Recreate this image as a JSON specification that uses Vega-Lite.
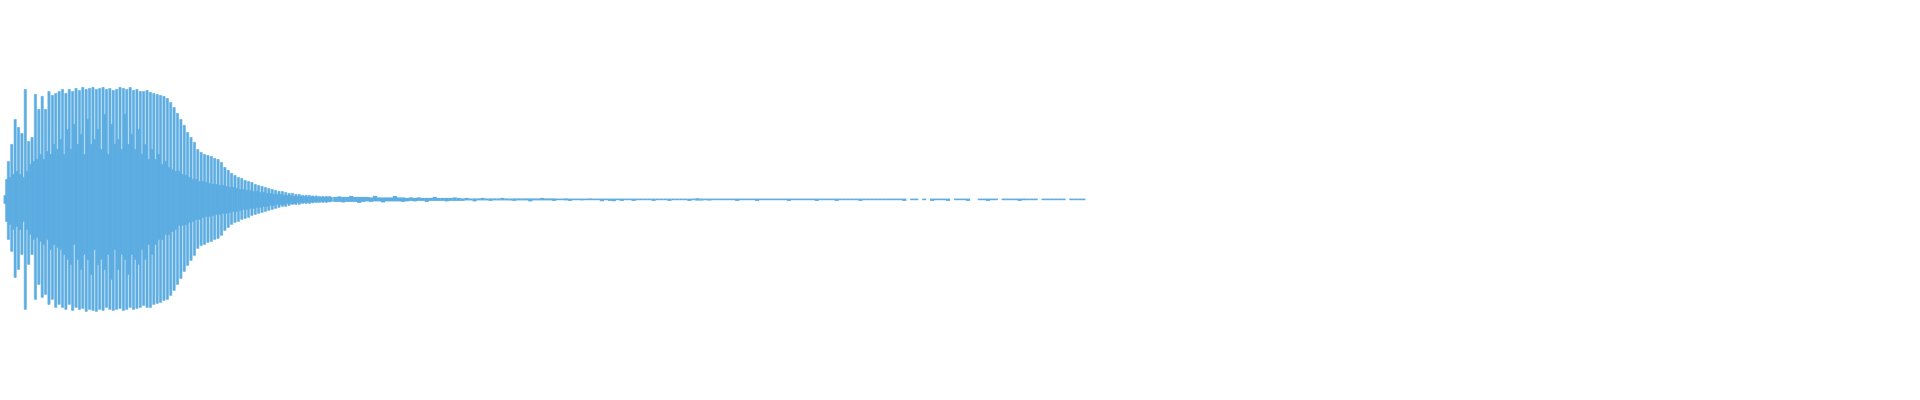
{
"$schema": "https://vega.github.io/schema/vega-lite/v6.json",
"width": 1920, "height": 400,
"autosize": {"type": "fit", "contains": "padding"},
"padding": 0,
"config": {"view": {"stroke": null}},
"data": {"values": [
{"t":0,"hi":4,"lo":-4},{"t":1.7,"hi":20,"lo":-22},{"t":3.4,"hi":38,"lo":-40},{"t":5.1,"hi":22,"lo":-25},{"t":6.8,"hi":55,"lo":-52},{"t":8.5,"hi":25,"lo":-30},{"t":10.2,"hi":80,"lo":-78},{"t":11.9,"hi":28,"lo":-27},{"t":13.6,"hi":72,"lo":-70},{"t":15.3,"hi":25,"lo":-30},
{"t":17,"hi":66,"lo":-55},{"t":18.7,"hi":22,"lo":-22},{"t":20.4,"hi":110,"lo":-110},{"t":22.1,"hi":28,"lo":-30},{"t":23.8,"hi":58,"lo":-65},{"t":25.5,"hi":35,"lo":-35},{"t":27.2,"hi":62,"lo":-55},{"t":28.9,"hi":38,"lo":-40},{"t":30.6,"hi":105,"lo":-100},{"t":32.3,"hi":40,"lo":-38},
{"t":34,"hi":90,"lo":-85},{"t":35.7,"hi":45,"lo":-42},{"t":37.4,"hi":103,"lo":-98},{"t":39.1,"hi":40,"lo":-45},{"t":40.8,"hi":90,"lo":-95},{"t":42.5,"hi":48,"lo":-40},{"t":44.2,"hi":108,"lo":-105},{"t":45.9,"hi":45,"lo":-50},{"t":47.6,"hi":104,"lo":-100},{"t":49.3,"hi":55,"lo":-45},
{"t":51,"hi":106,"lo":-108},{"t":52.7,"hi":50,"lo":-48},{"t":54.4,"hi":108,"lo":-105},{"t":56.1,"hi":60,"lo":-50},{"t":57.8,"hi":110,"lo":-108},{"t":59.5,"hi":45,"lo":-55},{"t":61.2,"hi":106,"lo":-110},{"t":62.9,"hi":70,"lo":-60},{"t":64.6,"hi":110,"lo":-105},{"t":66.3,"hi":50,"lo":-65},
{"t":68,"hi":108,"lo":-111},{"t":69.7,"hi":75,"lo":-45},{"t":71.4,"hi":111,"lo":-108},{"t":73.1,"hi":55,"lo":-60},{"t":74.8,"hi":109,"lo":-110},{"t":76.5,"hi":65,"lo":-70},{"t":78.2,"hi":112,"lo":-109},{"t":79.9,"hi":45,"lo":-55},{"t":81.6,"hi":110,"lo":-112},{"t":83.3,"hi":80,"lo":-60},
{"t":85,"hi":111,"lo":-110},{"t":86.7,"hi":55,"lo":-75},{"t":88.4,"hi":112,"lo":-111},{"t":90.1,"hi":60,"lo":-50},{"t":91.8,"hi":110,"lo":-112},{"t":93.5,"hi":70,"lo":-65},{"t":95.2,"hi":111,"lo":-110},{"t":96.9,"hi":50,"lo":-60},{"t":98.6,"hi":112,"lo":-111},{"t":100.3,"hi":85,"lo":-70},
{"t":102,"hi":110,"lo":-108},{"t":103.7,"hi":45,"lo":-55},{"t":105.4,"hi":111,"lo":-110},{"t":107.1,"hi":75,"lo":-80},{"t":108.8,"hi":109,"lo":-111},{"t":110.5,"hi":55,"lo":-50},{"t":112.2,"hi":110,"lo":-110},{"t":113.9,"hi":60,"lo":-70},{"t":115.6,"hi":112,"lo":-109},{"t":117.3,"hi":50,"lo":-55},
{"t":119,"hi":111,"lo":-111},{"t":120.7,"hi":85,"lo":-60},{"t":122.4,"hi":110,"lo":-110},{"t":124.1,"hi":55,"lo":-75},{"t":125.8,"hi":112,"lo":-108},{"t":127.5,"hi":65,"lo":-55},{"t":129.2,"hi":109,"lo":-110},{"t":130.9,"hi":50,"lo":-60},{"t":132.6,"hi":110,"lo":-109},{"t":134.3,"hi":70,"lo":-65},
{"t":136,"hi":108,"lo":-108},{"t":137.7,"hi":45,"lo":-50},{"t":139.4,"hi":108,"lo":-106},{"t":141.1,"hi":55,"lo":-60},{"t":142.8,"hi":109,"lo":-108},{"t":144.5,"hi":40,"lo":-45},{"t":146.2,"hi":107,"lo":-108},{"t":147.9,"hi":50,"lo":-55},{"t":149.6,"hi":106,"lo":-105},{"t":151.3,"hi":40,"lo":-45},
{"t":153,"hi":105,"lo":-104},{"t":154.7,"hi":45,"lo":-40},{"t":156.4,"hi":104,"lo":-103},{"t":158.1,"hi":35,"lo":-40},{"t":159.8,"hi":103,"lo":-101},{"t":161.5,"hi":38,"lo":-35},{"t":163.2,"hi":101,"lo":-100},{"t":164.9,"hi":32,"lo":-35},{"t":166.6,"hi":97,"lo":-96},{"t":168.3,"hi":30,"lo":-32},
{"t":170,"hi":92,"lo":-91},{"t":171.7,"hi":28,"lo":-30},{"t":173.4,"hi":86,"lo":-85},{"t":175.1,"hi":28,"lo":-26},{"t":176.8,"hi":80,"lo":-79},{"t":178.5,"hi":25,"lo":-26},{"t":180.2,"hi":74,"lo":-72},{"t":181.9,"hi":24,"lo":-25},{"t":183.6,"hi":67,"lo":-66},{"t":185.3,"hi":22,"lo":-23},
{"t":187,"hi":62,"lo":-61},{"t":188.7,"hi":20,"lo":-22},{"t":190.4,"hi":57,"lo":-56},{"t":192.1,"hi":20,"lo":-20},{"t":193.8,"hi":50,"lo":-49},{"t":195.5,"hi":18,"lo":-20},{"t":197.2,"hi":47,"lo":-46},{"t":198.9,"hi":18,"lo":-18},{"t":200.6,"hi":45,"lo":-45},{"t":202.3,"hi":17,"lo":-17},
{"t":204,"hi":44,"lo":-43},{"t":205.7,"hi":16,"lo":-17},{"t":207.4,"hi":43,"lo":-42},{"t":209.1,"hi":15,"lo":-16},{"t":210.8,"hi":41,"lo":-40},{"t":212.5,"hi":15,"lo":-15},{"t":214.2,"hi":40,"lo":-39},{"t":215.9,"hi":14,"lo":-15},{"t":217.6,"hi":37,"lo":-36},{"t":219.3,"hi":14,"lo":-14},
{"t":221,"hi":32,"lo":-31},{"t":222.7,"hi":13,"lo":-14},{"t":224.4,"hi":29,"lo":-28},{"t":226.1,"hi":12,"lo":-13},{"t":227.8,"hi":26,"lo":-25},{"t":229.5,"hi":12,"lo":-12},{"t":231.2,"hi":24,"lo":-23},{"t":232.9,"hi":11,"lo":-12},{"t":234.6,"hi":22,"lo":-22},{"t":236.3,"hi":10,"lo":-11},
{"t":238,"hi":21,"lo":-20},{"t":239.7,"hi":10,"lo":-10},{"t":241.4,"hi":19,"lo":-19},{"t":243.1,"hi":9,"lo":-10},{"t":244.8,"hi":18,"lo":-18},{"t":246.5,"hi":9,"lo":-9},{"t":248.2,"hi":17,"lo":-16},{"t":249.9,"hi":8,"lo":-9},{"t":251.6,"hi":15,"lo":-15},{"t":253.3,"hi":8,"lo":-8},
{"t":255,"hi":14,"lo":-14},{"t":256.7,"hi":7,"lo":-8},{"t":258.4,"hi":13,"lo":-13},{"t":260.1,"hi":7,"lo":-7},{"t":261.8,"hi":12,"lo":-12},{"t":263.5,"hi":6,"lo":-7},{"t":265.2,"hi":11,"lo":-11},{"t":266.9,"hi":6,"lo":-6},{"t":268.6,"hi":10,"lo":-10},{"t":270.3,"hi":5,"lo":-6},
{"t":272,"hi":9,"lo":-9},{"t":273.7,"hi":5,"lo":-5},{"t":275.4,"hi":8,"lo":-8},{"t":277.1,"hi":5,"lo":-5},{"t":278.8,"hi":8,"lo":-7},{"t":280.5,"hi":4,"lo":-5},{"t":282.2,"hi":7,"lo":-7},{"t":283.9,"hi":4,"lo":-4},{"t":285.6,"hi":6,"lo":-6},{"t":287.3,"hi":4,"lo":-4},
{"t":289,"hi":6,"lo":-5},{"t":290.7,"hi":3,"lo":-4},{"t":292.4,"hi":5,"lo":-5},{"t":294.1,"hi":3,"lo":-3},{"t":295.8,"hi":5,"lo":-5},{"t":297.5,"hi":3,"lo":-3},{"t":299.2,"hi":4,"lo":-4},{"t":300.9,"hi":3,"lo":-3},{"t":302.6,"hi":4,"lo":-4},{"t":304.3,"hi":2.5,"lo":-3},
{"t":306,"hi":4,"lo":-4},{"t":307.7,"hi":2.5,"lo":-2.5},{"t":309.4,"hi":3.5,"lo":-3.5},{"t":311.1,"hi":2.5,"lo":-2.5},{"t":312.8,"hi":3.5,"lo":-3},{"t":314.5,"hi":2,"lo":-2.5},{"t":316.2,"hi":3,"lo":-3},{"t":317.9,"hi":2,"lo":-2},{"t":319.6,"hi":3,"lo":-3},{"t":321.3,"hi":2,"lo":-2},
{"t":323,"hi":3,"lo":-3},{"t":324.7,"hi":2,"lo":-2},{"t":326.4,"hi":3,"lo":-2.5},{"t":328.1,"hi":2,"lo":-2},
{"t":332,"hi":2.5,"lo":-2.5},{"t":336,"hi":3,"lo":-2.5},{"t":340,"hi":2.5,"lo":-3},{"t":344,"hi":2.5,"lo":-2.5},{"t":348,"hi":3.5,"lo":-2.5},{"t":352,"hi":2.5,"lo":-2.5},{"t":356,"hi":2.5,"lo":-3.5},{"t":360,"hi":2.5,"lo":-2.5},{"t":364,"hi":2.5,"lo":-2},{"t":368,"hi":2,"lo":-2.5},
{"t":372,"hi":3.5,"lo":-2},{"t":376,"hi":2,"lo":-2},{"t":380,"hi":2,"lo":-3},{"t":384,"hi":2,"lo":-2},{"t":388,"hi":2,"lo":-2},{"t":392,"hi":3.5,"lo":-2},{"t":396,"hi":2,"lo":-2},{"t":400,"hi":2,"lo":-2.5},{"t":404,"hi":1.5,"lo":-2},{"t":408,"hi":2,"lo":-1.5},
{"t":412,"hi":1.5,"lo":-2},{"t":416,"hi":2,"lo":-1.5},{"t":420,"hi":1.5,"lo":-1.5},{"t":424,"hi":1.5,"lo":-2.5},{"t":428,"hi":1.5,"lo":-1.5},{"t":432,"hi":2.5,"lo":-1.5},{"t":436,"hi":1.5,"lo":-1.5},{"t":440,"hi":1.5,"lo":-1.5},{"t":444,"hi":1.5,"lo":-2},{"t":448,"hi":1.5,"lo":-1.5},
{"t":452,"hi":2,"lo":-1.5},{"t":456,"hi":1.5,"lo":-1.5},{"t":460,"hi":1,"lo":-1.5},{"t":464,"hi":1.5,"lo":-1},{"t":468,"hi":1,"lo":-1},{"t":472,"hi":1,"lo":-2},{"t":476,"hi":1,"lo":-1},{"t":480,"hi":1.5,"lo":-1},{"t":484,"hi":1,"lo":-1},{"t":488,"hi":1,"lo":-1.5},
{"t":492,"hi":1,"lo":-1},{"t":496,"hi":1,"lo":-1},{"t":500,"hi":1.5,"lo":-1},{"t":504,"hi":1,"lo":-1},{"t":508,"hi":1,"lo":-1},{"t":512,"hi":1,"lo":-1.5},{"t":516,"hi":1,"lo":-1},{"t":520,"hi":1,"lo":-1},{"t":524,"hi":1,"lo":-1},{"t":528,"hi":1,"lo":-2},
{"t":532,"hi":1,"lo":-1},{"t":536,"hi":1,"lo":-1},{"t":540,"hi":1.5,"lo":-1},{"t":544,"hi":1,"lo":-1},{"t":548,"hi":1,"lo":-1},{"t":552,"hi":1,"lo":-1.5},{"t":556,"hi":0.8,"lo":-0.8},{"t":560,"hi":0.8,"lo":-0.8},{"t":564,"hi":1,"lo":-1},{"t":568,"hi":0.8,"lo":-1.5},
{"t":572,"hi":0.8,"lo":-0.8},{"t":576,"hi":0.8,"lo":-0.8},{"t":580,"hi":0.8,"lo":-1},{"t":584,"hi":0.8,"lo":-0.8},{"t":588,"hi":1,"lo":-0.8},{"t":592,"hi":0.8,"lo":-0.8},{"t":596,"hi":0.8,"lo":-0.8},{"t":600,"hi":0.8,"lo":-1.8},{"t":604,"hi":0.8,"lo":-0.8},{"t":608,"hi":0.8,"lo":-1.5},
{"t":612,"hi":0.8,"lo":-1.8},{"t":616,"hi":0.8,"lo":-0.8},{"t":620,"hi":0.8,"lo":-1.5},{"t":624,"hi":0.8,"lo":-0.8},{"t":628,"hi":0.8,"lo":-0.8},{"t":632,"hi":0.8,"lo":-1.5},{"t":636,"hi":0.8,"lo":-0.8},{"t":640,"hi":0.8,"lo":-0.8},{"t":644,"hi":0.8,"lo":-0.8},{"t":648,"hi":0.8,"lo":-0.8},
{"t":652,"hi":0.8,"lo":-1.5},{"t":656,"hi":0.8,"lo":-0.8},{"t":660,"hi":0.8,"lo":-0.8},{"t":664,"hi":0.8,"lo":-0.8},{"t":668,"hi":0.8,"lo":-1.5},{"t":672,"hi":0.8,"lo":-0.8},{"t":676,"hi":0.8,"lo":-0.8},{"t":680,"hi":0.8,"lo":-0.8},{"t":684,"hi":0.8,"lo":-0.8},{"t":688,"hi":0.8,"lo":-1.5},
{"t":692,"hi":0.8,"lo":-0.8},{"t":696,"hi":1.2,"lo":-1.2},{"t":700,"hi":0.8,"lo":-1.2},{"t":704,"hi":0.8,"lo":-0.8},{"t":708,"hi":0.8,"lo":-1.2},{"t":712,"hi":0.8,"lo":-0.8},{"t":716,"hi":0.8,"lo":-0.8},{"t":720,"hi":0.8,"lo":-0.8},{"t":724,"hi":0.8,"lo":-0.8},{"t":728,"hi":0.8,"lo":-0.8},
{"t":732,"hi":0.8,"lo":-0.8},{"t":736,"hi":0.8,"lo":-1.5},{"t":740,"hi":0.8,"lo":-0.8},{"t":744,"hi":0.8,"lo":-0.8},{"t":748,"hi":0.8,"lo":-0.8},{"t":752,"hi":0.8,"lo":-0.8},{"t":756,"hi":0.8,"lo":-1.5},{"t":760,"hi":0.8,"lo":-0.8},{"t":764,"hi":0.8,"lo":-0.8},{"t":768,"hi":0.8,"lo":-0.8},
{"t":772,"hi":0.8,"lo":-0.8},{"t":776,"hi":0.8,"lo":-0.8},{"t":780,"hi":0.8,"lo":-0.8},{"t":784,"hi":0.8,"lo":-0.8},{"t":788,"hi":0.8,"lo":-1.5},{"t":792,"hi":0.8,"lo":-0.8},{"t":796,"hi":0.8,"lo":-0.8},{"t":800,"hi":0.8,"lo":-0.8},{"t":804,"hi":0.8,"lo":-0.8},{"t":808,"hi":0.8,"lo":-0.8},
{"t":812,"hi":0.8,"lo":-0.8},{"t":816,"hi":0.8,"lo":-1.5},{"t":820,"hi":0.8,"lo":-0.8},{"t":824,"hi":0.8,"lo":-0.8},{"t":828,"hi":0.8,"lo":-0.8},{"t":832,"hi":0.8,"lo":-0.8},{"t":836,"hi":0.8,"lo":-1.5},{"t":840,"hi":0.8,"lo":-0.8},{"t":844,"hi":0.8,"lo":-0.8},{"t":848,"hi":0.8,"lo":-0.8},
{"t":852,"hi":0.8,"lo":-0.8},{"t":856,"hi":0.8,"lo":-0.8},{"t":860,"hi":0.8,"lo":-1.5},{"t":864,"hi":0.8,"lo":-0.8},{"t":868,"hi":0.8,"lo":-0.8},{"t":872,"hi":0.8,"lo":-0.8},{"t":876,"hi":0.8,"lo":-0.8},{"t":880,"hi":0.8,"lo":-0.8},{"t":884,"hi":0.8,"lo":-0.8},{"t":888,"hi":0.8,"lo":-0.8},
{"t":892,"hi":0.8,"lo":-0.8},{"t":896,"hi":0.8,"lo":-0.8},{"t":900,"hi":0.8,"lo":-0.8},{"t":904,"hi":0.8,"lo":-1.5},{"t":912,"hi":0.8,"lo":-0.8},{"t":916,"hi":0.8,"lo":-0.8},{"t":924,"hi":0.8,"lo":-0.8},{"t":932,"hi":0.8,"lo":-1.5},{"t":936,"hi":0.8,"lo":-0.8},{"t":940,"hi":0.8,"lo":-0.8},
{"t":944,"hi":0.8,"lo":-0.8},{"t":948,"hi":0.8,"lo":-1.5},{"t":956,"hi":0.8,"lo":-0.8},{"t":960,"hi":0.8,"lo":-0.8},{"t":964,"hi":0.8,"lo":-0.8},{"t":968,"hi":0.8,"lo":-1.5},{"t":980,"hi":0.8,"lo":-0.8},{"t":984,"hi":0.8,"lo":-0.8},{"t":988,"hi":0.8,"lo":-1.5},{"t":992,"hi":0.8,"lo":-0.8},
{"t":996,"hi":0.8,"lo":-0.8},{"t":1004,"hi":0.8,"lo":-0.8},{"t":1008,"hi":0.8,"lo":-0.8},{"t":1012,"hi":0.8,"lo":-0.8},{"t":1016,"hi":0.8,"lo":-0.8},{"t":1020,"hi":0.8,"lo":-1.5},{"t":1024,"hi":0.8,"lo":-0.8},{"t":1028,"hi":0.8,"lo":-0.8},{"t":1032,"hi":0.8,"lo":-0.8},{"t":1036,"hi":0.8,"lo":-0.8},
{"t":1044,"hi":0.8,"lo":-0.8},{"t":1048,"hi":0.8,"lo":-0.8},{"t":1052,"hi":0.8,"lo":-0.8},{"t":1056,"hi":0.8,"lo":-0.8},{"t":1060,"hi":0.8,"lo":-0.8},{"t":1064,"hi":0.8,"lo":-0.8},{"t":1072,"hi":0.8,"lo":-0.8},{"t":1076,"hi":0.8,"lo":-0.8},{"t":1080,"hi":0.8,"lo":-0.8},{"t":1084,"hi":0.8,"lo":-0.8}
]},
"encoding": {
  "x": {"field": "t", "type": "quantitative", "scale": {"domain": [0, 1920], "nice": false, "zero": false}, "axis": null},
  "y": {"field": "hi", "type": "quantitative", "scale": {"domain": [-200.6, 199.4], "nice": false, "zero": false}, "axis": null},
  "y2": {"field": "lo"}
},
"layer": [
  {"transform": [{"filter": "datum.t < 330"}], "mark": {"type": "bar", "size": 2.2, "color": "#5dade2", "opacity": 1, "stroke": "#5dade2", "strokeWidth": 0.6}},
  {"transform": [{"filter": "datum.t >= 330"}], "mark": {"type": "bar", "size": 4.2, "color": "#5dade2", "opacity": 1}}
]
}
